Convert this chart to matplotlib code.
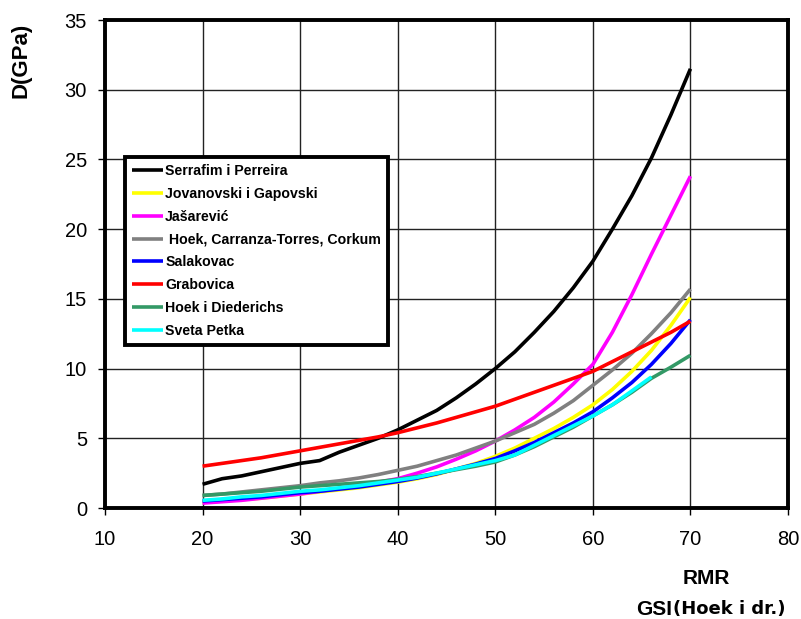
import matplotlib
matplotlib.use("Agg")
import matplotlib.pyplot as plt

plt.rcParams['font.family'] = ['Liberation Sans', 'DejaVu Sans']

# RMR / GSI values at which the moduli are tabulated
rmr = [20, 22, 24, 26, 28, 30, 32, 34, 36, 38, 40, 42, 44, 46, 48,
       50, 52, 54, 56, 58, 60, 62, 64, 66, 68, 70]
rmr_sveta_petka = rmr[:24]

serrafim = [1.7, 2.1, 2.3, 2.6, 2.9, 3.2, 3.4, 4.0, 4.5, 5.0, 5.6, 6.3, 7.0,
            7.9, 8.9, 10.0, 11.2, 12.6, 14.1, 15.8, 17.7, 20.0, 22.4, 25.1,
            28.2, 31.5]
jovanovski = [0.4, 0.5, 0.6, 0.7, 0.85, 1.0, 1.15, 1.3, 1.45, 1.65, 1.85, 2.1,
              2.4, 2.8, 3.2, 3.7, 4.3, 5.0, 5.7, 6.5, 7.4, 8.5, 9.8, 11.3,
              13.1, 15.1]
jasarevic = [0.35, 0.45, 0.55, 0.7, 0.85, 1.0, 1.2, 1.4, 1.6, 1.85, 2.1, 2.5,
             2.95, 3.5, 4.1, 4.8, 5.6, 6.5, 7.6, 8.9, 10.3, 12.6, 15.3, 18.2,
             21.0, 23.8]
hoek_ctc = [0.9, 1.0, 1.15, 1.3, 1.45, 1.6, 1.8, 1.95, 2.15, 2.4, 2.7, 3.0,
            3.4, 3.8, 4.3, 4.8, 5.4, 6.0, 6.8, 7.7, 8.8, 9.9, 11.1, 12.5,
            14.0, 15.7]
salakovac = [0.5, 0.6, 0.7, 0.8, 0.95, 1.1, 1.2, 1.35, 1.5, 1.7, 1.9, 2.15,
             2.45, 2.8, 3.15, 3.55, 4.1, 4.7, 5.4, 6.1, 6.9, 7.9, 9.0, 10.3,
             11.8, 13.5]
grabovica = [3.0, 3.2, 3.4, 3.6, 3.85, 4.1, 4.35, 4.6, 4.85, 5.1, 5.4, 5.75,
             6.1, 6.5, 6.9, 7.3, 7.8, 8.3, 8.8, 9.3, 9.8, 10.5, 11.2, 11.9,
             12.6, 13.4]
hoek_diederichs = [0.9, 1.0, 1.1, 1.2, 1.35, 1.5, 1.6, 1.7, 1.8, 1.9, 2.05,
                   2.25, 2.5, 2.75, 3.0, 3.3, 3.8, 4.4, 5.1, 5.8, 6.6, 7.4,
                   8.3, 9.3, 10.1, 10.95]
sveta_petka = [0.55, 0.65, 0.8, 0.9, 1.05, 1.2, 1.3, 1.45, 1.6, 1.8, 2.0, 2.2,
               2.5, 2.8, 3.1, 3.4, 3.8, 4.5, 5.2, 5.9, 6.6, 7.4, 8.4, 9.4]

series = [
    ("Serrafim i Perreira", rmr, serrafim, "#000000"),
    ("Jovanovski i Gapovski", rmr, jovanovski, "#ffff00"),
    ("Jašarević", rmr, jasarevic, "#ff00ff"),
    (" Hoek, Carranza-Torres, Corkum", rmr, hoek_ctc, "#808080"),
    ("Salakovac", rmr, salakovac, "#0000ff"),
    ("Grabovica", rmr, grabovica, "#ff0000"),
    ("Hoek i Diederichs", rmr, hoek_diederichs, "#339966"),
    ("Sveta Petka", rmr_sveta_petka, sveta_petka, "#00ffff"),
]

x_ticks = [10, 20, 30, 40, 50, 60, 70, 80]
y_ticks = [0, 5, 10, 15, 20, 25, 30, 35]

fig = plt.figure(figsize=(8.01, 6.19), dpi=100)
ax = fig.add_axes([105 / 801, 1 - 508 / 619, 683 / 801, 488 / 619])

for label, xs, ys, color in series:
    ax.plot(xs, ys, color=color, lw=2.6, label=label, solid_capstyle='butt')

ax.set_xlim(10, 80)
ax.set_ylim(0, 35)
ax.set_xticks(x_ticks)
ax.set_yticks(y_ticks)
ax.tick_params(labelsize=14.5, length=5, width=1, direction='out')
ax.tick_params(axis='x', pad=11)
ax.tick_params(axis='y', pad=8)
ax.grid(True, color='#222222', lw=1.0)
ax.set_axisbelow(True)
for sp in ax.spines.values():
    sp.set_linewidth(2.8)
    sp.set_color('black')

leg = ax.legend(loc='upper left', bbox_to_anchor=(0.029, 0.719),
                prop={'weight': 'bold', 'size': 10.2}, frameon=True,
                framealpha=1, fancybox=False, handlelength=2.2,
                handletextpad=0.15, labelspacing=0.62, borderpad=0.5,
                borderaxespad=0)
leg.get_frame().set_edgecolor('black')
leg.get_frame().set_linewidth(2.8)
for line in leg.get_lines():
    line.set_linewidth(2.6)

fig.text(21 / 801, 1 - 60 / 619, "D(GPa)", rotation=90, ha='center',
         va='center', fontsize=16, fontweight='bold')
fig.text(706 / 801, 1 - 578 / 619, "RMR", ha='center', va='center',
         fontsize=15, fontweight='bold')
fig.text(636 / 801, 1 - 615 / 619, "GSI", ha='left', va='baseline',
         fontsize=15, fontweight='bold')
fig.text(673 / 801, 1 - 614 / 619, "(Hoek i dr.)", ha='left', va='baseline',
         fontsize=13, fontweight='bold', family=['DejaVu Sans'])

fig.savefig("out.png", dpi=100)
